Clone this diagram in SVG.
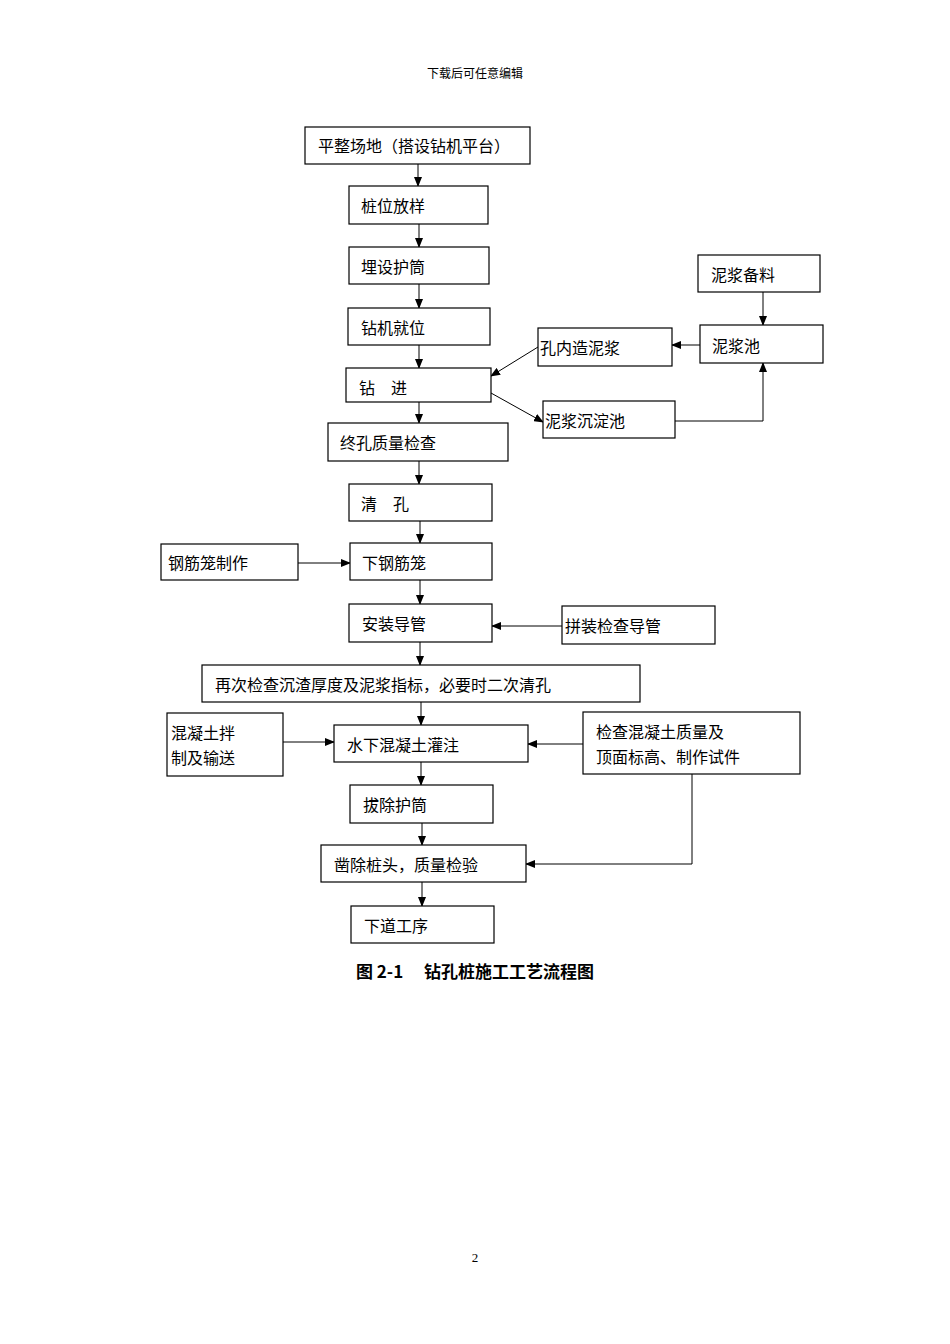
<svg xmlns="http://www.w3.org/2000/svg" width="950" height="1344" viewBox="0 0 950 1344">
<style>
rect{fill:#fff;stroke:#000;stroke-width:1.2}
text{font-family:"Noto Sans CJK SC","Noto Sans CJK JP",sans-serif;font-size:16px;fill:#000}
.c line,.c polyline{stroke:#000;stroke-width:1;fill:none;marker-end:url(#a)}
</style>
<defs><marker id="a" markerWidth="10" markerHeight="8" refX="9" refY="4" orient="auto" markerUnits="userSpaceOnUse"><path d="M0,0L10,4L0,8z" fill="#000"/></marker></defs>
<rect width="950" height="1344" style="stroke:none"/>
<text x="475" y="78" text-anchor="middle" style="font-size:12px">下载后可任意编辑</text>
<g class="c">
<line x1="418" y1="164" x2="418" y2="186"/>
<line x1="419" y1="224" x2="419" y2="247"/>
<line x1="419" y1="284" x2="419" y2="308"/>
<line x1="419" y1="345" x2="419" y2="368"/>
<line x1="419" y1="402" x2="419" y2="423"/>
<line x1="419" y1="461" x2="419" y2="484"/>
<line x1="420" y1="521" x2="420" y2="543"/>
<line x1="420" y1="580" x2="420" y2="604"/>
<line x1="420" y1="642" x2="420" y2="665"/>
<line x1="421" y1="702" x2="421" y2="725"/>
<line x1="421" y1="762" x2="421" y2="785"/>
<line x1="422" y1="823" x2="422" y2="845"/>
<line x1="422" y1="882" x2="422" y2="906"/>
<line x1="763" y1="292" x2="763" y2="325"/>
<line x1="700" y1="345" x2="672" y2="345"/>
<line x1="538" y1="347" x2="491" y2="376"/>
<line x1="491" y1="393" x2="543" y2="422"/>
<polyline points="675,421 763,421 763,363"/>
<line x1="298" y1="563" x2="350" y2="563"/>
<line x1="562" y1="626" x2="492" y2="626"/>
<line x1="283" y1="742" x2="334" y2="742"/>
<line x1="583" y1="744" x2="528" y2="744"/>
<polyline points="692,774 692,864 526,864"/>
</g>
<g id="n1"><rect x="305" y="127" width="225" height="37"/><text x="318" y="152">平整场地（搭设钻机平台）</text></g>
<g id="n2"><rect x="349" y="186" width="139" height="38"/><text x="361" y="212">桩位放样</text></g>
<g id="n3"><rect x="349" y="247" width="140" height="37"/><text x="361" y="273">埋设护筒</text></g>
<g id="n4"><rect x="348" y="308" width="142" height="37"/><text x="361" y="334">钻机就位</text></g>
<g id="n5"><rect x="346" y="368" width="145" height="34"/><text x="359" y="394">钻　进</text></g>
<g id="n6"><rect x="328" y="423" width="180" height="38"/><text x="340" y="449">终孔质量检查</text></g>
<g id="n7"><rect x="349" y="484" width="143" height="37"/><text x="361" y="510">清　孔</text></g>
<g id="n8"><rect x="350" y="543" width="142" height="37"/><text x="362" y="569">下钢筋笼</text></g>
<g id="n9"><rect x="349" y="604" width="143" height="38"/><text x="362" y="630">安装导管</text></g>
<g id="n10"><rect x="202" y="665" width="438" height="37"/><text x="215" y="691">再次检查沉渣厚度及泥浆指标，必要时二次清孔</text></g>
<g id="n11"><rect x="334" y="725" width="194" height="37"/><text x="347" y="751">水下混凝土灌注</text></g>
<g id="n12"><rect x="350" y="785" width="143" height="38"/><text x="363" y="811">拔除护筒</text></g>
<g id="n13"><rect x="321" y="845" width="205" height="37"/><text x="334" y="871">凿除桩头，质量检验</text></g>
<g id="n14"><rect x="351" y="906" width="143" height="37"/><text x="364" y="932">下道工序</text></g>
<g id="n15"><rect x="698" y="255" width="122" height="37"/><text x="711" y="281">泥浆备料</text></g>
<g id="n16"><rect x="700" y="325" width="123" height="38"/><text x="712" y="352">泥浆池</text></g>
<g id="n17"><rect x="538" y="328" width="134" height="38"/><text x="540" y="354">孔内造泥浆</text></g>
<g id="n18"><rect x="543" y="401" width="132" height="37"/><text x="545" y="427">泥浆沉淀池</text></g>
<g id="n19"><rect x="161" y="544" width="137" height="36"/><text x="168" y="569">钢筋笼制作</text></g>
<g id="n20"><rect x="562" y="606" width="153" height="38"/><text x="565" y="632">拼装检查导管</text></g>
<g id="n21"><rect x="167" y="713" width="116" height="63"/><text x="171" y="739">混凝土拌</text><text x="171" y="764">制及输送</text></g>
<g id="n22"><rect x="583" y="712" width="217" height="62"/><text x="596" y="738">检查混凝土质量及</text><text x="596" y="763">顶面标高、制作试件</text></g>
<text x="475" y="978" text-anchor="middle" style="font-family:'Noto Sans CJK SC',serif;font-size:17px;font-weight:bold">图 2-1　 钻孔桩施工工艺流程图</text>
<text x="475" y="1262" text-anchor="middle" style="font-family:'Liberation Serif',serif;font-size:13px">2</text>
</svg>
